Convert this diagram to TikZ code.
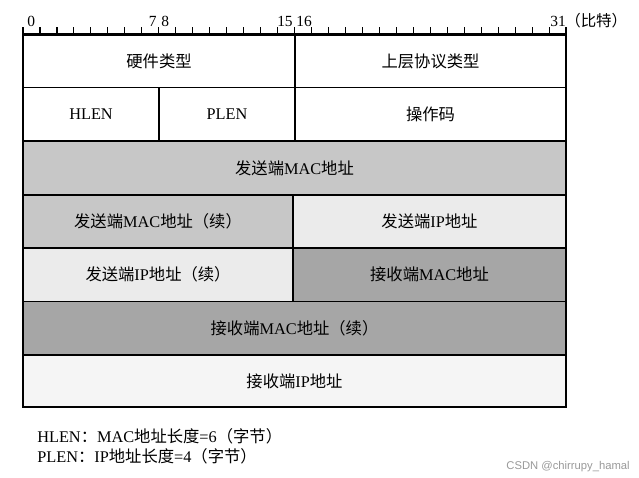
\documentclass[tikz,border=0pt]{standalone}
\usepackage{fontspec}
\setmainfont{Liberation Serif}
\newfontfamily\cjk{Noto Sans CJK SC}
\newfontfamily\wmfont{Liberation Sans}
\newcommand\zh[1]{{\cjk #1}}
\definecolor{fieldmid}{gray}{0.78}
\definecolor{fieldlight}{gray}{0.92}
\definecolor{fielddark}{gray}{0.65}
\definecolor{fieldpale}{gray}{0.96}

\begin{document}
\begin{tikzpicture}[x=0.025cm, y=-0.025cm,
  field/.style={draw, line width=0.8pt},
  fieldtext/.style={font=\fontsize{11.6}{14}\selectfont, inner sep=0pt},
  bittext/.style={font=\fontsize{11}{13}\selectfont, inner sep=0pt}]
\useasboundingbox (0,0) rectangle (639,478);

% fields of the packet
\foreach \nm/\xa/\ya/\xb/\yb/\c/\txt in {
  hwtype/23/34.5/295/87.5/white/{\zh{硬件类型}},
  prtype/295/34.5/566/87.5/white/{\zh{上层协议类型}},
  hlen/23/87.5/159/141/white/{HLEN},
  plen/159/87.5/295/141/white/{PLEN},
  opcode/295/87.5/566/141/white/{\zh{操作码}},
  sndmac/23/141/566/195/fieldmid/{\zh{发送端}MAC\zh{地址}},
  sndmacc/23/195/293/248/fieldmid/{\zh{发送端}MAC\zh{地址（续）}},
  sndip/293/195/566/248/fieldlight/{\zh{发送端}IP\zh{地址}},
  sndipc/23/248/293/301.5/fieldlight/{\zh{发送端}IP\zh{地址（续）}},
  rcvmac/293/248/566/301.5/fielddark/{\zh{接收端}MAC\zh{地址}},
  rcvmacc/23/301.5/566/355/fielddark/{\zh{接收端}MAC\zh{地址（续）}},
  rcvip/23/355/566/407/fieldpale/{\zh{接收端}IP\zh{地址}}} {
  \filldraw[field, fill=\c] (\xa,\ya) rectangle (\xb,\yb);
  \node[fieldtext] (\nm) at ({(\xa+\xb)/2},{(\ya+\yb)/2}) {\txt};
}
\draw[line width=1.8pt] (23,34.5) rectangle (566,407);

% bit ruler
\foreach \i in {0,...,32}
  \draw[line width=0.8pt] ({23+\i*16.97},34.5) -- ++(0,-7.5);
\node[bittext, anchor=base west] (b0) at (27,27) {0};
\node[bittext, anchor=base east] (b7) at (157,27) {7};
\node[bittext, anchor=base west] (b8) at (161,27) {8};
\node[bittext, anchor=base east] (b15) at (293,27) {15};
\node[bittext, anchor=base west] (b16) at (296,27) {16};
\node[bittext, anchor=base] (b31) at (558,27) {31};
\node[bittext, anchor=base west] (unit) at (565,27) {\zh{（比特）}};

% legend
\node[fieldtext, anchor=base west] (leg1) at (37,443) {HLEN\zh{：}MAC\zh{地址长度}=6\zh{（字节）}};
\node[fieldtext, anchor=base west] (leg2) at (37,462) {PLEN\zh{：}IP\zh{地址长度}=4\zh{（字节）}};
\node[font=\wmfont\fontsize{8}{9}\selectfont, text=black!40, anchor=base east, inner sep=0pt] (wm) at (630,470) {CSDN @chirrupy\_hamal};
\end{tikzpicture}
\end{document}
